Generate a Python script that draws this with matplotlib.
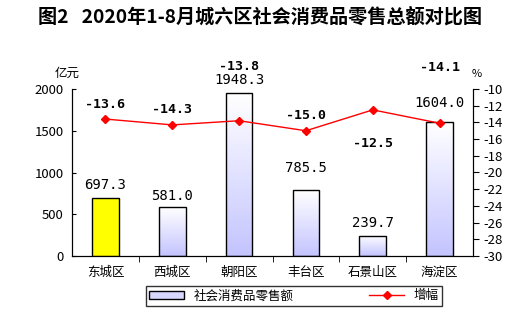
import numpy as np
import matplotlib.pyplot as plt
from matplotlib.patches import Patch
from matplotlib.lines import Line2D
from matplotlib.colors import LinearSegmentedColormap

plt.rcParams['font.family'] = ['Noto Sans CJK SC', 'DejaVu Sans']
plt.rcParams['axes.unicode_minus'] = False

districts = ['东城区', '西城区', '朝阳区', '丰台区', '石景山区', '海淀区']
sales = [697.3, 581.0, 1948.3, 785.5, 239.7, 1604.0]
growth = [-13.6, -14.3, -13.8, -15.0, -12.5, -14.1]

# label offsets in pixels (bar value labels / growth labels)
bar_off = [13, 11, 13, 22, 13, 19]
line_off = [15, 15, 54, 15, -34, 56]

fig = plt.figure(figsize=(5.26, 3.23), dpi=100)
ax = fig.add_axes([72 / 526, 1 - 256 / 323, (473 - 72) / 526, (256 - 89) / 323])
ax2 = ax.twinx()

x = np.arange(len(districts))
w = 0.4
grad = np.linspace(0, 1, 100).reshape(-1, 1)
cmap = LinearSegmentedColormap.from_list('g', ['#c4c4ff', '#ffffff'])

for i, v in enumerate(sales):
    if i == 0:
        # 东城区 highlighted in yellow
        ax.bar(x[i], v, w, color='#ffff00', edgecolor='black', linewidth=1, zorder=3)
    else:
        ax.imshow(grad, extent=[x[i] - w / 2, x[i] + w / 2, 0, v], origin='lower',
                  aspect='auto', cmap=cmap, zorder=2)
        ax.bar(x[i], v, w, facecolor='none', edgecolor='black', linewidth=1, zorder=3)
    ax.annotate(f'{v:.1f}', (x[i], v), xytext=(0, bar_off[i]), textcoords='offset pixels',
                ha='center', va='center', fontsize=10, family='DejaVu Sans Mono')

ax.set_xlim(-0.5, 5.5)
ax.set_ylim(0, 2000)
ax.set_yticks([0, 500, 1000, 1500, 2000])
ax.set_xticks(x)
ax.set_xticklabels(districts, fontsize=9)
ax.set_xticks(np.arange(0.5, 5.5, 1), minor=True)
ax.tick_params(axis='x', which='major', length=0, pad=7)
ax.tick_params(axis='x', which='minor', length=4, direction='out')
ax.tick_params(axis='y', labelsize=9.5, length=3, direction='in', pad=6)
ax.spines['top'].set_visible(False)
ax2.spines['top'].set_visible(False)

ax2.plot(x, growth, color='red', linewidth=1, marker='D', markersize=4, zorder=4)
ax2.set_ylim(-30, -10)
ax2.set_yticks(range(-30, -9, 2))
ax2.tick_params(axis='y', labelsize=9.5, length=4, direction='out')
for i, g in enumerate(growth):
    ax2.annotate(f'{g:.1f}', (x[i], g), xytext=(0, line_off[i]), textcoords='offset pixels',
                 ha='center', va='center', fontsize=9.5, fontweight='bold',
                 family='DejaVu Sans Mono')

fig.text(67 / 526, 1 - 73 / 323, '亿元', ha='center', va='center', fontsize=9)
fig.text(477 / 526, 1 - 74 / 323, '%', ha='center', va='center', fontsize=8)

fig.text(260 / 526, 1 - 17 / 323, '图2   2020年1-8月城六区社会消费品零售总额对比图',
         ha='center', va='center', fontsize=13.8, fontweight='bold')

handles = [Patch(facecolor='#d8d8ff', edgecolor='black', linewidth=1),
           Line2D([0], [0], color='red', marker='D', markersize=4, linewidth=1)]
leg = fig.legend(handles, ['社会消费品零售额', '增幅'], loc='center',
                 bbox_to_anchor=(294 / 526, 1 - 296 / 323), ncol=2, fontsize=9,
                 frameon=True, fancybox=False, columnspacing=6, handlelength=2.8,
                 handleheight=0.6, borderpad=0.25)
leg.get_frame().set_edgecolor('black')
leg.get_frame().set_linewidth(1)

fig.savefig('out.png', dpi=100)
